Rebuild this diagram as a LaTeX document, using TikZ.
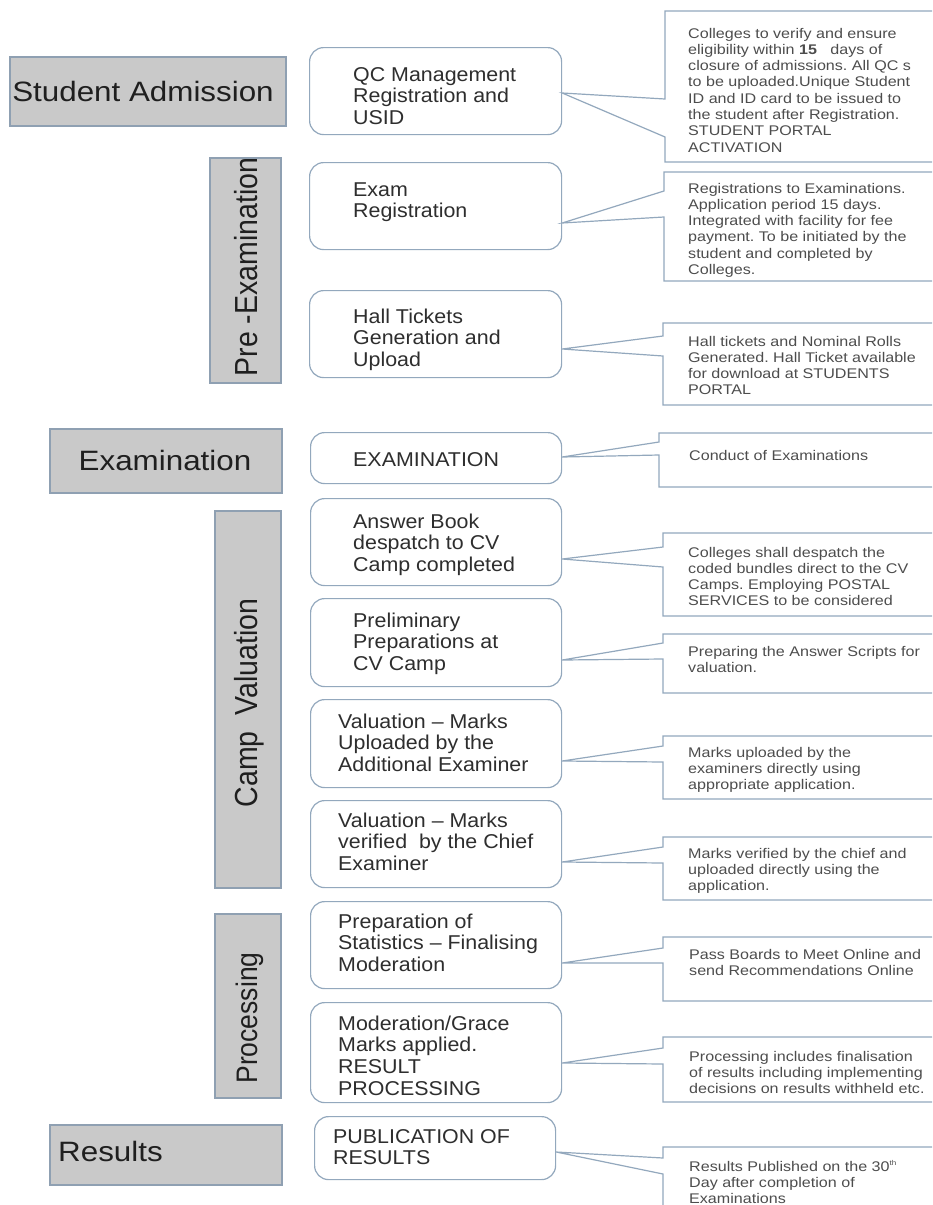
\documentclass[tikz,border=0pt]{standalone}
\usepackage{graphicx}
\usepackage{fontspec}
\setmainfont{Liberation Sans}
\frenchspacing
\newfontfamily\lblfont[FakeStretch=1.12,Ligatures=TeX]{Liberation Sans}
\newfontfamily\boxfont[FakeStretch=1.07,Ligatures=TeX]{Liberation Sans}
\newfontfamily\callfont[FakeStretch=1.15,Ligatures=TeX]{Liberation Sans}
\newfontfamily\rotfont[Ligatures=TeX]{Liberation Sans}
\definecolor{grayfill}{HTML}{C9C9C9}
\definecolor{grayedge}{HTML}{8FA0B2}
\definecolor{boxedge}{HTML}{93A8BD}
\definecolor{lbltext}{HTML}{1F1F1F}
\definecolor{boxtext}{HTML}{2E2E2E}
\definecolor{calltext}{HTML}{4D4D4D}
\newcommand\btext[1]{\parbox[t]{260pt}{\frenchspacing\boxfont\fontsize{20}{21.8}\selectfont\raggedright #1}}
\newcommand\ctext[1]{\parbox[t]{265pt}{\frenchspacing\callfont\fontsize{14}{16.3}\selectfont\raggedright #1}}
\newcommand\rtext[2]{\rotfont\fontsize{#1}{30}\selectfont\scalebox{1}[1.12]{#2}}
\newcommand\callshape[6]{%
  \draw[callout] (#1,#2) -- (945,#2) -- (945,#3) -- (#1,#3) -- (#1,#5) -- (#6) -- (#1,#4) -- cycle;}
\tikzset{
  graybox/.style={draw=grayedge, fill=grayfill, line width=1.5pt, inner sep=0pt, anchor=north west},
  rbox/.style={draw=boxedge, fill=white, line width=1.2pt, rounded corners=14pt, inner sep=0pt, anchor=north west},
  callout/.style={draw=boxedge, fill=white, line width=1.2pt, line join=miter},
  lbl/.style={inner sep=0pt, text=lbltext, font=\lblfont\fontsize{28}{30}\selectfont},
  rlbl/.style={inner sep=0pt, text=lbltext, rotate=90, anchor=base},
  btxt/.style={inner sep=0pt, anchor=base west, text=boxtext},
  ctxt/.style={inner sep=0pt, anchor=base west, text=calltext},
}
\begin{document}
\begin{tikzpicture}[x=1pt, y=-1pt]
\useasboundingbox (0,0) rectangle (932,1205);
\fill[white] (0,0) rectangle (932,1205);
\begin{scope}
\clip (0,0) rectangle (932,1205);

% ---------- stage labels (grey) ----------
\node[graybox, minimum width=276pt, minimum height=69pt] (gAdm) at (9,56) {};
\node[lbl, anchor=base] (gAdmT) at (143,101) {Student Admission};

\node[graybox, minimum width=71pt, minimum height=225pt] (gPre) at (209,157) {};
\node[rlbl] (gPreT) at (257.5,267) {\rtext{28.5}{Pre -Examination}};

\node[graybox, minimum width=232pt, minimum height=64pt] (gExam) at (49,428) {};
\node[lbl, anchor=base] (gExamT) at (165,470) {Examination};

\node[graybox, minimum width=66pt, minimum height=377pt] (gCamp) at (214,510) {};
\node[rlbl] (gCampT) at (257.5,703) {\rtext{28.5}{Camp\ \ Valuation}};

\node[graybox, minimum width=66pt, minimum height=184pt] (gProc) at (214,913) {};
\node[rlbl] (gProcT) at (257.5,1018) {\rtext{26.5}{Processing}};

\node[graybox, minimum width=232pt, minimum height=60pt] (gRes) at (49,1124) {};
\node[lbl, anchor=base west] (gResT) at (58,1161) {Results};

% ---------- step boxes ----------
\node[rbox, minimum width=252pt, minimum height=87pt] (qc) at (309,47) {};
\node[rbox, minimum width=252pt, minimum height=87pt] (ereg) at (309,162) {};
\node[rbox, minimum width=252pt, minimum height=87pt] (hall) at (309,290) {};
\node[rbox, minimum width=251pt, minimum height=51pt] (exam) at (310,432) {};
\node[rbox, minimum width=251pt, minimum height=87pt] (ans) at (310,498) {};
\node[rbox, minimum width=251pt, minimum height=88pt] (prel) at (310,598) {};
\node[rbox, minimum width=251pt, minimum height=88pt] (val1) at (310,699) {};
\node[rbox, minimum width=251pt, minimum height=87pt] (val2) at (310,800) {};
\node[rbox, minimum width=251pt, minimum height=87pt] (prep) at (310,901) {};
\node[rbox, minimum width=251pt, minimum height=100pt] (mod) at (310,1002) {};
\node[rbox, minimum width=241pt, minimum height=63pt] (pub) at (314,1116) {};

\node[btxt] (qcT) at (353,81) {\btext{QC Management\\Registration and\\USID}};
\node[btxt] (eregT) at (353,196) {\btext{Exam\\Registration}};
\node[btxt] (hallT) at (353,323) {\btext{Hall Tickets\\Generation and\\Upload}};
\node[btxt] (examT) at (353,466) {\btext{EXAMINATION}};
\node[btxt] (ansT) at (353,528) {\btext{Answer Book\\despatch to CV\\Camp completed}};
\node[btxt] (prelT) at (353,627) {\btext{Preliminary\\Preparations at\\CV Camp}};
\node[btxt] (val1T) at (338,728) {\btext{Valuation \textendash{} Marks\\Uploaded by the\\Additional Examiner}};
\node[btxt] (val2T) at (338,827) {\btext{Valuation \textendash{} Marks\\verified\ \ by the Chief\\Examiner}};
\node[btxt] (prepT) at (338,928) {\btext{Preparation of\\Statistics \textendash{} Finalising\\Moderation}};
\node[btxt] (modT) at (338,1030) {\btext{Moderation/Grace\\Marks applied.\\RESULT\\PROCESSING}};
\node[btxt] (pubT) at (333,1143) {\btext{PUBLICATION OF\\RESULTS}};

% ---------- callout tips on the step boxes ----------
\coordinate (t1) at (qc.east |- 0,93);
\coordinate (t2) at (ereg.east |- 0,223);
\coordinate (t3) at (hall.east |- 0,349);
\coordinate (t4) at (exam.east |- 0,457);
\coordinate (t5) at (ans.east |- 0,559);
\coordinate (t6) at (prel.east |- 0,660);
\coordinate (t7) at (val1.east |- 0,761);
\coordinate (t8) at (val2.east |- 0,862);
\coordinate (t9) at (prep.east |- 0,963);
\coordinate (t10) at (mod.east |- 0,1063);
\coordinate (t11) at (pub.east |- 0,1152);

% ---------- callouts ----------
\callshape{665}{11}{162}{99}{137}{t1}
\callshape{664}{172}{281}{191}{217}{t2}
\callshape{663}{323}{405}{336}{356}{t3}
\callshape{659}{433}{487}{442}{455}{t4}
\callshape{663}{533}{616}{547}{567}{t5}
\callshape{663}{634}{693}{643}{659}{t6}
\callshape{663}{736}{799}{746}{762}{t7}
\callshape{663}{837}{900}{847}{863}{t8}
\callshape{663}{937}{1001}{948}{963}{t9}
\callshape{663}{1037}{1102}{1048}{1064}{t10}
\callshape{663}{1147}{1230}{1158}{1174}{t11}

\node[ctxt] (c1) at (688,38) {\ctext{Colleges to verify and ensure\\eligibility within \textbf{15}\ \ \ days of\\closure of admissions. All QC s\\to be uploaded.Unique Student\\ID and ID card to be issued to\\the student after Registration.\\STUDENT PORTAL\\ACTIVATION}};
\node[ctxt] (c2) at (688,193) {\ctext{Registrations to Examinations.\\Application period 15 days.\\Integrated with facility for fee\\payment. To be initiated by the\\student and completed by\\Colleges.}};
\node[ctxt] (c3) at (688,346) {\ctext{Hall tickets and Nominal Rolls\\Generated. Hall Ticket available\\for download at STUDENTS\\PORTAL}};
\node[ctxt] (c4) at (689,460) {\ctext{Conduct of Examinations}};
\node[ctxt] (c5) at (688,557) {\ctext{Colleges shall despatch the\\coded bundles direct to the CV\\Camps. Employing POSTAL\\SERVICES to be considered}};
\node[ctxt] (c6) at (688,656) {\ctext{Preparing the Answer Scripts for\\valuation.}};
\node[ctxt] (c7) at (688,757) {\ctext{Marks uploaded by the\\examiners directly using\\appropriate application.}};
\node[ctxt] (c8) at (688,858) {\ctext{Marks verified by the chief and\\uploaded directly using the\\application.}};
\node[ctxt] (c9) at (689,959) {\ctext{Pass Boards to Meet Online and\\send Recommendations Online}};
\node[ctxt] (c10) at (689,1061) {\ctext{Processing includes finalisation\\of results including implementing\\decisions on results withheld etc.}};
\node[ctxt] (c11) at (689,1171) {\ctext{Results Published on the 30\raisebox{0.75ex}{\fontsize{7}{7}\selectfont th}\\Day after completion of\\Examinations}};
\end{scope}
\end{tikzpicture}
\end{document}
